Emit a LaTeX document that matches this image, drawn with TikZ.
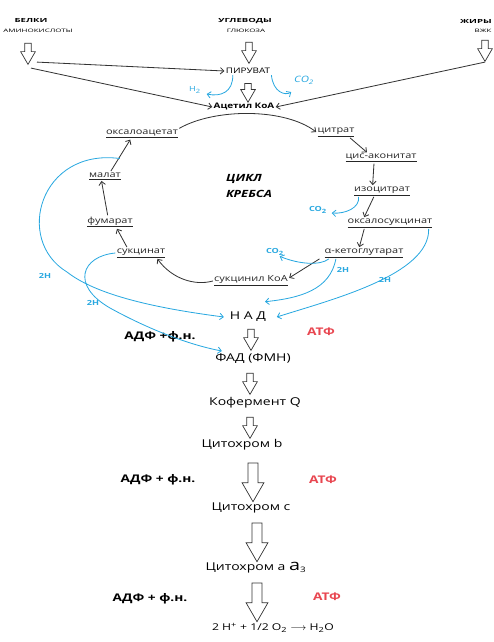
\documentclass[tikz,border=0pt]{standalone}
\usepackage{fontspec}
\setmainfont{Open Sans}
\newfontfamily\wide[FakeStretch=1.3]{Open Sans}
\newfontfamily\xwide[FakeStretch=1.7]{Open Sans}
\usepackage{xcolor}
\usetikzlibrary{arrows.meta,positioning,shapes.arrows,calc}
\definecolor{hblue}{RGB}{41,168,224}
\definecolor{atpred}{RGB}{232,70,80}

\begin{document}
\begin{tikzpicture}[
    x=0.03cm, y=-0.03cm,
    lbl/.style={font=\wide\fontsize{7.2}{8}\selectfont, text=black!85, inner sep=1pt},
    chain/.style={font=\wide\fontsize{9.2}{11}\selectfont, inner sep=1pt},
    src/.style={font=\xwide\fontsize{4.8}{5}\selectfont\bfseries, inner sep=0.5pt},
    srcsub/.style={font=\xwide\fontsize{4}{5}\selectfont, inner sep=0.5pt},
    adp/.style={font=\wide\fontsize{9}{11}\selectfont\bfseries, inner sep=1pt},
    atp/.style={adp, text=atpred},
    hlbl/.style={font=\wide\fontsize{6}{7}\selectfont\bfseries, text=hblue, inner sep=0.5pt},
    flow/.style={-{Straight Barb[length=3pt,width=5.5pt]}, draw=black!80, line width=0.7pt},
    hflow/.style={flow, draw=hblue},
    hollow/.style={single arrow, draw=black!80, fill=white, line width=0.6pt,
        shape border rotate=270, inner sep=2.5pt, single arrow tip angle=60,
        single arrow head extend=3.5pt, minimum width=12pt, minimum height=18pt},
    bighollow/.style={hollow, inner sep=4pt, single arrow head extend=5pt, minimum width=18pt, minimum height=33pt}
]
    \useasboundingbox (0,0) rectangle (493,642);

    \node[src] (belki) at (31,21) {БЕЛКИ};
    \node[srcsub] (amino) at (38,31) {АМИНОКИСЛОТЫ};
    \node[hollow] (ha1) at (28,51) {};
    \node[src] (uglev) at (245,21) {УГЛЕВОДЫ};
    \node[srcsub] (gluc) at (246,31) {ГЛЮКОЗА};
    \node[hollow] (ha2) at (249,50) {};
    \node[src] (zhir) at (476,21) {ЖИРЫ};
    \node[srcsub] (vzhk) at (483,31) {ВЖК};
    \node[hollow] (ha3) at (485,48) {};

    \node[font=\wide\fontsize{6.5}{7}\selectfont, inner sep=1pt] (pyr) at (248,71) {ПИРУВАТ};
    \node[hollow, minimum height=16pt] (ha4) at (248,90) {};
    \node[font=\wide\fontsize{6.5}{7}\selectfont\bfseries, inner sep=1pt] (acoa) at (244,107) {Ацетил КоА};
    \node[hlbl, font=\wide\fontsize{6}{7}\selectfont] (h2) at (195,90) {H\textsubscript{2}};
    \node[hlbl, font=\wide\fontsize{7.5}{8}\selectfont\itshape] (co2a) at (304,80) {CO\textsubscript{2}};

    \draw[flow] ([shift={(9,-3)}]ha1.tip) -- (pyr.west);
    \draw[flow] ([shift={(3,3)}]ha1.tip) -- (acoa.west);
    \draw[flow] (ha3.tip) -- (acoa.east);
    \draw[hflow] ([xshift=-13]pyr.south) .. controls (233,92) and (221,97) .. ([shift={(5,4)}]h2.east);
    \draw[hflow] ([xshift=20]pyr.south) .. controls (273,92) and (285,96) .. ([shift={(-2,12)}]co2a.west);

    \node[lbl] (oxal) at (142,134) {\underline{оксалоацетат}};
    \node[lbl] (malat) at (105,176) {\underline{малат}};
    \node[lbl] (fum) at (110,222) {\underline{фумарат}};
    \node[lbl] (succ) at (141,253) {\underline{сукцинат}};
    \node[lbl] (sucoa) at (251,281) {\underline{сукцинил КоА}};
    \node[lbl] (cit) at (336,132) {\underline{цитрат}};
    \node[lbl] (cis) at (381,158) {\underline{цис-аконитат}};
    \node[lbl] (iso) at (382,191) {\underline{изоцитрат}};
    \node[lbl] (oxsuc) at (390,223) {\underline{оксалосукцинат}};
    \node[lbl] (akg) at (364,253) {\underline{α-кетоглутарат}};
    \node[font=\wide\fontsize{8.5}{13.6}\selectfont\bfseries\itshape, align=left] (krebs) at (249,186) {ЦИКЛ\\КРЕБСА};

    \draw[flow] (oxal.north east) .. controls (215,108) and (285,108) .. (cit.west);
    \draw[flow] ([xshift=12]cit.south) -- ([xshift=-12]cis.north);
    \draw[flow] ([xshift=-6]cis.south) -- ([xshift=-8]iso.north);
    \draw[flow] ([xshift=-7]iso.south) -- ([xshift=-22]oxsuc.north);
    \draw[flow] ([xshift=-22]oxsuc.south) -- ([xshift=-4]akg.north);
    \draw[flow] ([xshift=-38]akg.south) -- ([yshift=-3]sucoa.north east);
    \draw[flow] (sucoa.west) .. controls (195,286) and (172,279) .. ([xshift=14]succ.south);
    \draw[flow] ([xshift=-12]succ.north) -- ([xshift=6]fum.south);
    \draw[flow] ([xshift=-2]fum.north) -- ([xshift=-3]malat.south);
    \draw[flow] ([xshift=5]malat.north) -- ([xshift=-10]oxal.south);

    \node[hlbl] (co2b) at (318,210) {CO\textsubscript{2}};
    \node[hlbl] (co2c) at (275,252) {CO\textsubscript{2}};
    \node[hlbl] (h2a) at (343,270) {2H};
    \node[hlbl] (h2b) at (385,280) {2H};
    \node[hlbl] (h2c) at (45,276) {2H};
    \node[hlbl] (h2d) at (93,303) {2H};

    \node[chain] (nad) at (248,317) {Н А Д};
    \node[chain] (fad) at (253,359) {ФАД (ФМН)};
    \node[chain] (koq) at (255,403) {Кофермент Q};
    \node[chain] (cytb) at (242,445) {Цитохром b};
    \node[chain] (cytc) at (251,508) {Цитохром с};
    \node[chain] (cyta) at (256,568) {Цитохром а {\fontsize{13}{13}\selectfont a}\textsubscript{3}};
    \node[chain, font=\wide\fontsize{8}{10}\selectfont] (water) at (273,628)
        {2 H\textsuperscript{+} + 1/2 O\textsubscript{2} $\longrightarrow$ H\textsubscript{2}O};
    \node[hollow] (ha5) at (251,337) {};
    \node[hollow] (ha6) at (250,381) {};
    \node[hollow] (ha7) at (250,425) {};
    \node[bighollow] (ha8) at (253,478) {};
    \node[bighollow] (ha9) at (257,538) {};
    \node[bighollow] (ha10) at (257,598) {};

    \node[adp] (adp1) at (160,337) {АДФ +ф.н.};
    \node[atp] (atp1) at (321,332) {АТФ};
    \node[adp] (adp2) at (158,480) {АДФ + ф.н.};
    \node[atp] (atp2) at (323,480) {АТФ};
    \node[adp] (adp3) at (150,599) {АДФ + ф.н.};
    \node[atp] (atp3) at (327,597) {АТФ};

    \draw[hflow] ([xshift=-20]iso.south) .. controls (360,208) and (345,214) .. ([shift={(4,3)}]co2b.east);
    \draw[hflow] ([xshift=-30]akg.south) .. controls (320,266) and (298,264) .. ([xshift=4]co2c.south);
    \draw[hflow] ([xshift=-24]akg.south) .. controls (330,290) and (300,298) .. ([shift={(17,-9)}]nad.north);
    \draw[hflow] ([xshift=33]oxsuc.south) .. controls (430,275) and (330,300) .. ([xshift=8]nad.east);
    \draw[hflow] ($(malat.north)!0.4!(oxal.south)$) .. controls (40,148) and (14,240) .. (67,272)
        .. controls (100,298) and (170,310) .. ([xshift=-4]nad.west);
    \draw[hflow] (succ.west) .. controls (82,256) and (70,285) .. (110,308)
        .. controls (150,330) and (190,345) .. ([shift={(8,-8)}]fad.west);
\end{tikzpicture}
\end{document}
